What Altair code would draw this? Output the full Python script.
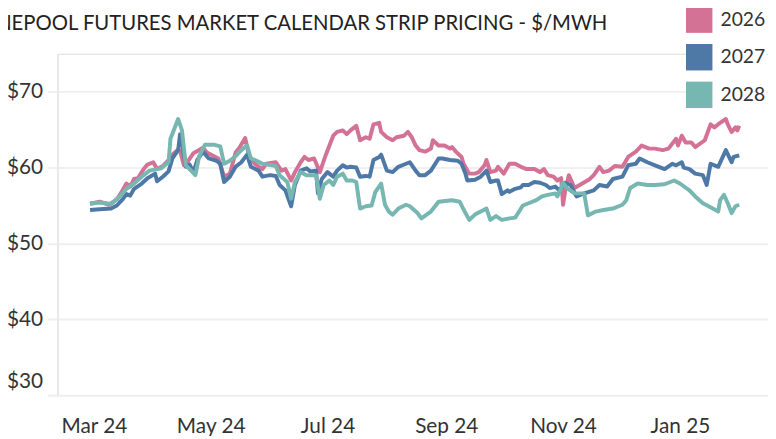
import altair as alt
import pandas as pd

years = ["2026", "2027", "2028"]
colors = ["#d37295", "#4e79a7", "#76b7b2"]
title_text = "NEPOOL FUTURES MARKET CALENDAR STRIP PRICING  - $/MWH"
y_ticks = [30, 40, 50, 60, 70]

dates_2026 = ["2024-02-28", "2024-03-04", "2024-03-09", "2024-03-13", "2024-03-16", "2024-03-18", "2024-03-20", "2024-03-22", "2024-03-24", "2024-03-27", "2024-03-29", "2024-04-01", "2024-04-03", "2024-04-06", "2024-04-09", "2024-04-11", "2024-04-14", "2024-04-15", "2024-04-17", "2024-04-19", "2024-04-22", "2024-04-27", "2024-04-29", "2024-05-02", "2024-05-05", "2024-05-08", "2024-05-11", "2024-05-14", "2024-05-16", "2024-05-19", "2024-05-21", "2024-05-24", "2024-05-28", "2024-05-30", "2024-06-04", "2024-06-07", "2024-06-09", "2024-06-12", "2024-06-14", "2024-06-17", "2024-06-19", "2024-06-21", "2024-06-24", "2024-06-27", "2024-06-30", "2024-07-02", "2024-07-04", "2024-07-06", "2024-07-09", "2024-07-11", "2024-07-13", "2024-07-16", "2024-07-18", "2024-07-21", "2024-07-23", "2024-07-25", "2024-07-28", "2024-07-29", "2024-08-01", "2024-08-04", "2024-08-06", "2024-08-10", "2024-08-12", "2024-08-14", "2024-08-16", "2024-08-18", "2024-08-21", "2024-08-24", "2024-08-25", "2024-08-28", "2024-08-31", "2024-09-03", "2024-09-04", "2024-09-06", "2024-09-09", "2024-09-10", "2024-09-13", "2024-09-16", "2024-09-18", "2024-09-21", "2024-09-22", "2024-09-24", "2024-09-27", "2024-09-28", "2024-10-01", "2024-10-04", "2024-10-07", "2024-10-10", "2024-10-13", "2024-10-17", "2024-10-20", "2024-10-22", "2024-10-24", "2024-10-27", "2024-10-29", "2024-10-31", "2024-11-01", "2024-11-02", "2024-11-04", "2024-11-07", "2024-11-11", "2024-11-15", "2024-11-17", "2024-11-20", "2024-11-22", "2024-11-25", "2024-11-28", "2024-12-02", "2024-12-05", "2024-12-09", "2024-12-12", "2024-12-16", "2024-12-19", "2024-12-23", "2024-12-26", "2024-12-30", "2024-12-31", "2025-01-02", "2025-01-04", "2025-01-07", "2025-01-09", "2025-01-14", "2025-01-17", "2025-01-19", "2025-01-22", "2025-01-25", "2025-01-26", "2025-01-28", "2025-01-30", "2025-01-31", "2025-02-01"]
prices_2026 = [55.2, 55.5, 55.1, 55.8, 57.0, 57.9, 57.5, 58.5, 58.6, 59.8, 60.4, 60.7, 59.8, 60.2, 61.0, 61.7, 62.4, 62.2, 60.3, 60.8, 61.9, 62.6, 62.0, 61.6, 61.2, 58.8, 59.2, 62.0, 62.6, 63.9, 61.6, 60.5, 59.8, 60.5, 60.7, 59.6, 59.8, 58.3, 59.4, 60.7, 61.4, 61.0, 61.2, 59.4, 61.6, 62.9, 64.2, 64.7, 64.9, 64.4, 64.9, 65.5, 63.6, 64.0, 63.8, 65.7, 65.9, 64.7, 64.0, 63.6, 64.0, 64.2, 64.7, 64.0, 62.9, 62.3, 62.1, 62.5, 63.6, 62.9, 62.9, 62.5, 62.7, 62.1, 61.4, 60.5, 59.2, 59.2, 59.4, 60.3, 61.0, 59.4, 59.6, 60.1, 59.2, 60.5, 60.5, 60.1, 59.8, 59.8, 59.4, 59.8, 59.0, 58.8, 58.3, 58.6, 55.1, 56.8, 59.0, 57.3, 57.9, 58.5, 59.0, 60.1, 59.4, 59.6, 60.2, 60.1, 61.4, 62.1, 62.9, 62.5, 62.5, 62.3, 62.5, 63.8, 62.9, 64.2, 63.3, 63.3, 62.7, 63.6, 65.7, 65.3, 65.9, 66.4, 65.7, 64.7, 65.3, 64.9, 65.5]

dates_2027 = ["2024-02-28", "2024-03-04", "2024-03-10", "2024-03-13", "2024-03-16", "2024-03-18", "2024-03-20", "2024-03-22", "2024-03-26", "2024-03-29", "2024-04-02", "2024-04-03", "2024-04-06", "2024-04-09", "2024-04-11", "2024-04-14", "2024-04-15", "2024-04-16", "2024-04-18", "2024-04-20", "2024-04-22", "2024-04-24", "2024-04-27", "2024-04-30", "2024-05-04", "2024-05-06", "2024-05-08", "2024-05-11", "2024-05-14", "2024-05-17", "2024-05-20", "2024-05-22", "2024-05-26", "2024-05-28", "2024-06-01", "2024-06-04", "2024-06-06", "2024-06-09", "2024-06-12", "2024-06-14", "2024-06-17", "2024-06-20", "2024-06-22", "2024-06-25", "2024-06-26", "2024-06-28", "2024-07-01", "2024-07-04", "2024-07-06", "2024-07-09", "2024-07-11", "2024-07-13", "2024-07-16", "2024-07-18", "2024-07-21", "2024-07-23", "2024-07-25", "2024-07-28", "2024-07-29", "2024-08-01", "2024-08-04", "2024-08-07", "2024-08-11", "2024-08-13", "2024-08-16", "2024-08-18", "2024-08-21", "2024-08-24", "2024-08-28", "2024-08-30", "2024-09-03", "2024-09-07", "2024-09-09", "2024-09-11", "2024-09-12", "2024-09-16", "2024-09-19", "2024-09-22", "2024-09-24", "2024-09-27", "2024-09-28", "2024-09-30", "2024-10-03", "2024-10-04", "2024-10-07", "2024-10-10", "2024-10-11", "2024-10-14", "2024-10-17", "2024-10-20", "2024-10-23", "2024-10-25", "2024-10-28", "2024-10-30", "2024-11-02", "2024-11-05", "2024-11-08", "2024-11-12", "2024-11-17", "2024-11-20", "2024-11-24", "2024-11-27", "2024-12-02", "2024-12-05", "2024-12-09", "2024-12-11", "2024-12-15", "2024-12-19", "2024-12-24", "2024-12-28", "2024-12-30", "2025-01-02", "2025-01-03", "2025-01-06", "2025-01-09", "2025-01-13", "2025-01-15", "2025-01-17", "2025-01-21", "2025-01-25", "2025-01-28", "2025-01-29", "2025-02-01"]
prices_2027 = [54.4, 54.5, 54.6, 55.0, 55.8, 56.5, 56.3, 57.2, 57.9, 58.6, 59.2, 58.2, 58.8, 59.5, 61.2, 62.3, 64.4, 63.3, 60.1, 60.4, 59.4, 61.0, 62.1, 61.2, 60.9, 60.5, 58.1, 58.8, 60.1, 60.7, 61.7, 60.1, 59.6, 58.8, 59.0, 58.9, 57.7, 57.0, 54.9, 57.7, 59.6, 59.9, 59.5, 59.6, 56.6, 58.5, 59.4, 58.8, 59.6, 60.3, 60.0, 60.1, 60.0, 58.8, 58.9, 58.8, 61.0, 61.4, 61.7, 59.6, 59.4, 60.1, 60.5, 60.7, 59.6, 59.0, 59.0, 59.6, 61.2, 61.2, 61.0, 60.9, 60.5, 59.2, 58.3, 58.4, 58.8, 59.6, 58.1, 58.3, 58.3, 56.5, 57.0, 56.8, 57.2, 57.4, 57.7, 57.7, 58.1, 58.0, 57.7, 57.3, 57.5, 57.0, 58.0, 57.7, 56.2, 56.6, 57.0, 57.7, 57.5, 58.5, 58.8, 60.3, 60.5, 61.2, 60.7, 60.3, 59.8, 60.5, 60.3, 60.7, 60.0, 59.8, 59.2, 59.0, 57.7, 60.5, 60.1, 62.3, 60.7, 61.4, 61.6]

dates_2028 = ["2024-02-28", "2024-03-04", "2024-03-10", "2024-03-15", "2024-03-18", "2024-03-22", "2024-03-26", "2024-03-30", "2024-04-03", "2024-04-05", "2024-04-09", "2024-04-10", "2024-04-14", "2024-04-16", "2024-04-18", "2024-04-20", "2024-04-23", "2024-04-25", "2024-04-28", "2024-05-03", "2024-05-06", "2024-05-08", "2024-05-11", "2024-05-14", "2024-05-17", "2024-05-20", "2024-05-22", "2024-05-25", "2024-05-28", "2024-06-02", "2024-06-04", "2024-06-06", "2024-06-10", "2024-06-12", "2024-06-14", "2024-06-17", "2024-06-20", "2024-06-25", "2024-06-27", "2024-06-29", "2024-07-02", "2024-07-04", "2024-07-06", "2024-07-09", "2024-07-11", "2024-07-14", "2024-07-16", "2024-07-18", "2024-07-21", "2024-07-24", "2024-07-26", "2024-07-29", "2024-07-31", "2024-08-02", "2024-08-04", "2024-08-07", "2024-08-11", "2024-08-13", "2024-08-17", "2024-08-19", "2024-08-24", "2024-08-28", "2024-09-04", "2024-09-08", "2024-09-10", "2024-09-13", "2024-09-16", "2024-09-22", "2024-09-24", "2024-09-27", "2024-09-30", "2024-10-04", "2024-10-07", "2024-10-09", "2024-10-11", "2024-10-14", "2024-10-18", "2024-10-21", "2024-10-24", "2024-10-28", "2024-10-29", "2024-10-31", "2024-11-01", "2024-11-03", "2024-11-07", "2024-11-12", "2024-11-14", "2024-11-18", "2024-11-22", "2024-11-27", "2024-12-02", "2024-12-04", "2024-12-06", "2024-12-10", "2024-12-15", "2024-12-19", "2024-12-24", "2024-12-29", "2025-01-01", "2025-01-06", "2025-01-09", "2025-01-13", "2025-01-16", "2025-01-21", "2025-01-22", "2025-01-24", "2025-01-26", "2025-01-28", "2025-01-30", "2025-02-01"]
prices_2028 = [55.3, 55.4, 55.2, 56.3, 57.2, 57.9, 58.8, 59.6, 59.8, 59.9, 60.7, 63.8, 66.4, 64.9, 60.3, 59.8, 59.0, 61.5, 63.0, 63.0, 62.8, 60.5, 60.9, 61.5, 62.3, 62.9, 61.2, 60.9, 60.5, 60.3, 60.2, 59.0, 58.1, 55.9, 58.1, 59.4, 59.0, 59.0, 55.9, 57.7, 58.3, 57.7, 58.8, 59.2, 58.3, 58.3, 58.1, 54.6, 54.9, 55.0, 56.8, 57.9, 55.1, 54.2, 53.8, 54.6, 55.1, 54.9, 54.0, 53.3, 54.2, 55.5, 55.7, 55.5, 54.5, 53.1, 53.8, 54.6, 53.1, 53.6, 53.1, 53.3, 53.4, 54.2, 55.0, 55.3, 55.7, 56.2, 56.4, 56.6, 56.2, 57.3, 58.0, 57.3, 56.6, 56.6, 53.7, 54.2, 54.4, 54.6, 55.1, 55.7, 57.3, 57.9, 57.7, 57.7, 57.8, 58.3, 57.9, 57.0, 56.2, 55.3, 54.9, 54.2, 55.7, 56.4, 55.3, 54.0, 54.9, 55.1]

rows = []
for yr, ds, vs in [("2026", dates_2026, prices_2026), ("2027", dates_2027, prices_2027), ("2028", dates_2028, prices_2028)]:
    for d, v in zip(ds, vs):
        rows.append({"date": d, "price": v, "strip": yr})
df = pd.DataFrame(rows)

FONT = "Lato"

x_enc = alt.X(
    "date:T",
    scale=alt.Scale(
        type="utc",
        domain=[alt.DateTime(year=2024, month=2, date=11, utc=True),
                alt.DateTime(year=2025, month=2, date=16, utc=True)],
    ),
    axis=alt.Axis(
        title=None, format="%b %y", tickCount={"interval": "month", "step": 2},
        grid=False, domain=False, ticks=False, tickSize=0, labelPadding=21,
        labelFont=FONT, labelFontSize=21, labelColor="#333333", labelFlush=False,
    ),
)
y_enc = alt.Y(
    "price:Q",
    scale=alt.Scale(domain=[30, 75], nice=False, zero=False),
    axis=alt.Axis(
        title=None, values=y_ticks, format="$.0f",
        grid=True, gridColor="#efefef", gridWidth=2,
        domain=True, domainColor="#e8e8e8", domainWidth=1.5,
        ticks=True, tickSize=10, tickColor="#efefef", tickWidth=2,
        labelPadding=5, labelFont=FONT, labelFontSize=21, labelColor="#333333",
        labelFlush=False,
        labelOffset={"condition": {"test": "datum.value == 30", "value": -14}, "value": 0},
    ),
)

# line colours: same mapping, listed in reverse so this (hidden) legend is not merged with the swatch legend
lines = alt.Chart(df).mark_line(strokeWidth=4, strokeJoin="round").encode(
    x=x_enc,
    y=y_enc,
    color=alt.Color("strip:N", scale=alt.Scale(domain=years[::-1], range=colors[::-1]), legend=None),
)

# zero-size squares: they carry the legend (filled square swatches) and draw nothing
legend_layer = alt.Chart(df).mark_square(filled=True, size=0, opacity=1).encode(
    x=alt.X("date:T"),
    y=alt.Y("price:Q"),
    fill=alt.Fill(
        "strip:N",
        scale=alt.Scale(domain=years, range=colors),
        legend=alt.Legend(
            title=None, orient="none", legendX=635, legendY=-48,
            symbolType="square", symbolSize=713, symbolStrokeWidth=0, symbolOpacity=1,
            labelFont=FONT, labelFontSize=19.5, labelColor="#333333",
            labelOffset=8, rowPadding=11, padding=0, fillColor="white",
        ),
    ),
)

chart = alt.layer(lines, legend_layer).properties(
    width=718,
    height=345,
    autosize="none",
    padding={"left": 50, "top": 44, "right": 0, "bottom": 39},
    title=alt.TitleParams(
        text=title_text, anchor="start", frame="group", dx=-62, offset=-44,
        baseline="alphabetic", font=FONT, fontSize=20.5, fontWeight="normal", color="#222222",
    ),
).configure_view(stroke=None).configure(background="white")

chart.save("out.html", embed_options={"renderer": "svg", "actions": False})
